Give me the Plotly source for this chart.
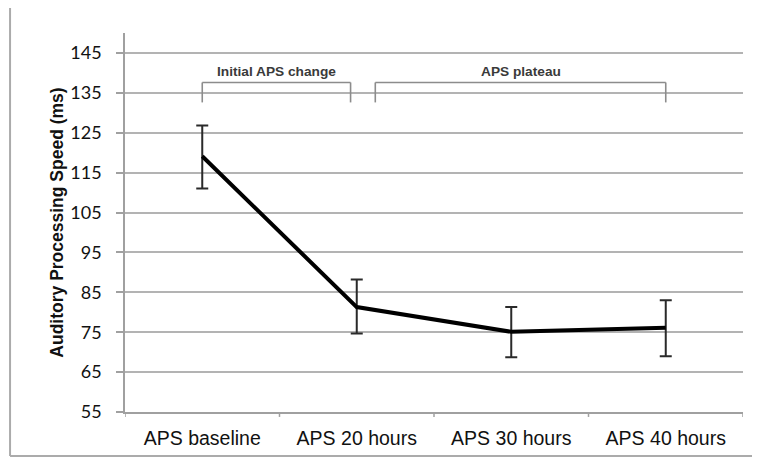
import plotly.graph_objects as go

# ---- data ----
categories = ["APS baseline", "APS 20 hours", "APS 30 hours", "APS 40 hours"]
aps_mean = [119.1, 81.3, 75.1, 76.1]
err_plus = [7.7, 6.9, 6.2, 6.9]
err_minus = [8.1, 6.6, 6.4, 7.1]
y_ticks = [55, 65, 75, 85, 95, 105, 115, 125, 135, 145]
phase_labels = ["Initial APS change", "APS plateau"]
phase_start = [0.0, 1.12]
phase_end = [0.96, 3.0]

fig = go.Figure()
fig.add_trace(go.Scatter(
    x=list(range(len(categories))), y=aps_mean, mode="lines",
    line=dict(color="black", width=4),
    error_y=dict(type="data", array=err_plus, arrayminus=err_minus,
                 color="#2a2a2a", thickness=2, width=6),
    showlegend=False, hoverinfo="skip"))

# bracket annotations
br_top, br_bot, txt_y = 137.6, 132.6, 140.4
for lab, s, e in zip(phase_labels, phase_start, phase_end):
    for (x0, y0, x1, y1) in [(s, br_bot, s, br_top), (s, br_top, e, br_top), (e, br_top, e, br_bot)]:
        fig.add_shape(type="line", xref="x", yref="y", x0=x0, y0=y0, x1=x1, y1=y1,
                      line=dict(color="#8c8c8c", width=1.6))
    fig.add_annotation(x=(s + e) / 2, y=txt_y, xref="x", yref="y", text=lab,
                       showarrow=False, font=dict(family="Liberation Sans, Arial", size=13.7,
                                                  color="#3a3a3a", weight="bold"))

# outer frame (left, top and bottom sides; right side lies beyond the window)
frame_l, frame_r, frame_b, frame_t = -0.186, 1.06, -0.116, 1.071
for (x0, y0, x1, y1) in [(frame_l, frame_b, frame_l, frame_t),
                         (frame_l, frame_t, frame_r, frame_t),
                         (frame_l, frame_b, frame_r, frame_b)]:
    fig.add_shape(type="line", xref="paper", yref="paper", x0=x0, y0=y0, x1=x1, y1=y1,
                  line=dict(color="#ababab", width=2), layer="below")

# x tick marks at category boundaries
for b in [-0.5, 0.5, 1.5, 2.5, 3.5]:
    fig.add_shape(type="line", xref="x", yref="paper", x0=b, x1=b, y0=0, y1=-0.013,
                  line=dict(color="#a0a0a0", width=1.5))

fig.update_layout(
    width=760, height=462,
    # page body adds an 8px offset, margins compensate for it
    margin=dict(l=117, r=25, t=25, b=58),
    paper_bgcolor="white", plot_bgcolor="white",
    xaxis=dict(
        tickmode="array", tickvals=list(range(len(categories))), ticktext=categories,
        range=[-0.5, 3.5], showgrid=False, zeroline=False,
        showline=True, linecolor="#a0a0a0", linewidth=1.5,
        ticks="", ticklabelstandoff=8,
        tickfont=dict(family="Liberation Sans, Arial", size=19.5, color="#111"),
    ),
    yaxis=dict(
        range=[55, 150], tickmode="array", tickvals=y_ticks,
        showgrid=True, gridcolor="#b3b3b3", gridwidth=1.5, zeroline=False,
        showline=True, linecolor="#a0a0a0", linewidth=1.5,
        ticks="outside", ticklen=7, tickcolor="#a0a0a0", tickwidth=1.5,
        ticklabelstandoff=11,
        tickfont=dict(family="Lato", size=18, color="#111"),
        title=dict(text="Auditory Processing Speed (ms)", standoff=2,
                   font=dict(family="Liberation Sans, Arial", size=17.5, color="#111", weight="bold")),
    ),
)

fig.write_html("out.html")
